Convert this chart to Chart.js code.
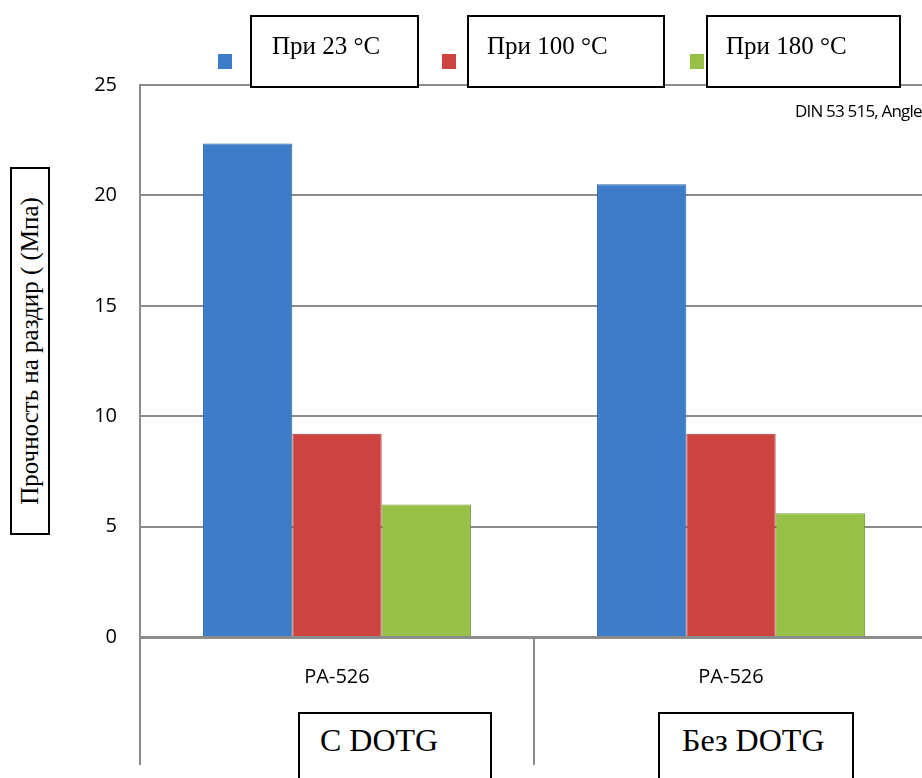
<!DOCTYPE html>
<html>
<head>
<meta charset="utf-8">
<script src="https://cdn.jsdelivr.net/npm/chart.js@4"></script>
<style>
  html, body { margin: 0; padding: 0; background: #fff; overflow: hidden; }
  #wrap { position: relative; width: 922px; height: 778px; overflow: hidden; }
  #holder { position: absolute; left: 0; top: 0; width: 930px; height: 778px; }
  .box { position: absolute; background: #fff; border: 2px solid #000; box-sizing: border-box;
         font-family: "Liberation Serif", "Times New Roman", serif; color: #000; white-space: nowrap; }
  .mark { position: absolute; width: 14px; height: 15px; }
  #note { position: absolute; left: 795px; top: 99px; font: 17px "Open Sans", sans-serif;
          letter-spacing: -0.8px; color: #000; }
  #ytitle span { position: absolute; left: 50%; top: 50%; white-space: nowrap;
                 transform: translate(-50%, -50%) rotate(-90deg); }
</style>
</head>
<body>
<div id="wrap">
  <div id="holder"><canvas id="myChart"></canvas></div>
  <div id="note">DIN 53 515, Angle</div>
</div>
<script>
// данные
const categories = ['PA-526', 'PA-526'];
const seriesNames = ['При 23 °C', 'При 100 °C', 'При 180 °C'];
const at23 = [22.35, 20.5];
const at100 = [9.2, 9.2];
const at180 = [6.0, 5.6];
const groupNames = ['С DOTG', 'Без DOTG'];
const yTitle = 'Прочность на раздир ( (Мпа)';
const yTicks = [0, 5, 10, 15, 20, 25];

const colors = ['#3c7cc8', '#cd4340', '#97c047'];
const edges = ['#2e62a4', '#a83532', '#77a031'];

// линии под осью X (продолжение оси и разделитель групп)
const lowerLines = {
  id: 'lowerLines',
  afterDraw(chart) {
    const { ctx, scales: { x, y } } = chart;
    const y0 = y.getPixelForValue(0);
    const mid = (x.getPixelForTick(0) + x.getPixelForTick(1)) / 2;
    ctx.save();
    ctx.strokeStyle = '#8c8c8c';
    ctx.lineWidth = 2;
    [x.left, mid].forEach(px => {
      ctx.beginPath();
      ctx.moveTo(px, y0);
      ctx.lineTo(px, 765);
      ctx.stroke();
    });
    ctx.restore();
  }
};

const ctx = document.getElementById('myChart').getContext('2d');
const myChart = new Chart(ctx, {
  type: 'bar',
  data: {
    labels: categories,
    datasets: [at23, at100, at180].map((d, i) => ({
      label: seriesNames[i],
      data: d,
      backgroundColor: colors[i],
      borderColor: edges[i],
      borderWidth: 1,
      categoryPercentage: 0.68,
      barPercentage: 1.0
    }))
  },
  options: {
    responsive: true,
    maintainAspectRatio: false,
    animation: false,
    layout: { padding: { top: 85, right: 2, left: 0, bottom: 0 } },
    plugins: {
      legend: { display: false },
      tooltip: { enabled: false }
    },
    scales: {
      x: {
        grid: { display: false, drawTicks: false },
        border: { color: '#8c8c8c', width: 3 },
        ticks: { padding: 28, color: '#000', font: { family: 'Open Sans', size: 20 } },
        afterFit(scale) { scale.height = 141; }
      },
      y: {
        min: 0,
        max: 25,
        afterBuildTicks(scale) { scale.ticks = yTicks.map(v => ({ value: v })); },
        grid: { color: '#8c8c8c', lineWidth: 2, drawTicks: false },
        border: { color: '#8c8c8c', width: 2 },
        ticks: { padding: 23, color: '#000', font: { family: 'Open Sans', size: 20 } },
        afterFit(scale) { scale.width = 140; }
      }
    }
  },
  plugins: [lowerLines]
});

// легенда, подписи в рамках
const wrap = document.getElementById('wrap');
function addBox(id, x, y, w, h, text, size, pad) {
  const d = document.createElement('div');
  d.className = 'box';
  if (id) d.id = id;
  d.style.cssText += `left:${x}px;top:${y}px;width:${w}px;height:${h}px;font-size:${size}px;padding:${pad};`;
  d.innerHTML = id === 'ytitle' ? `<span>${text}</span>` : text;
  wrap.appendChild(d);
}
const markX = [218, 442, 690];
const legendBoxes = [[250, 15, 169, 73], [467, 15, 198, 73], [706, 15, 195, 73]];
const legendPad = [20, 18, 18];
seriesNames.forEach((s, i) => {
  const m = document.createElement('div');
  m.className = 'mark';
  m.style.cssText += `left:${markX[i]}px;top:54px;background:${colors[i]};`;
  wrap.appendChild(m);
  const b = legendBoxes[i];
  addBox(null, b[0], b[1], b[2], b[3], s, 25, `15px 0 0 ${legendPad[i]}px`);
});
addBox('ytitle', 10, 167, 40, 368, yTitle, 25, '0');
const groupBoxes = [[298, 712, 194, 80], [658, 712, 196, 80]];
const groupPad = [20, 22];
groupNames.forEach((g, i) => {
  const b = groupBoxes[i];
  addBox(null, b[0], b[1], b[2], b[3], g, 32, `8px 0 0 ${groupPad[i]}px`);
});
</script>
</body>
</html>
